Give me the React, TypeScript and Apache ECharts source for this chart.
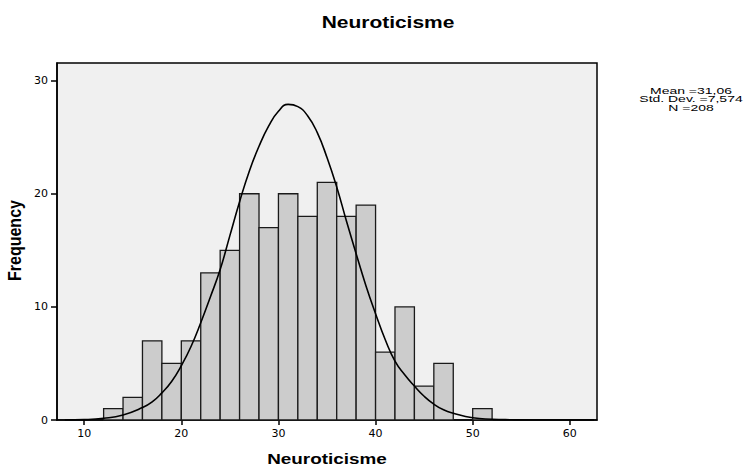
import React, { useEffect, useRef } from "react";
import * as echarts from "echarts";

// Histogram bins (width 2) and counts
const binStarts = [12, 14, 16, 18, 20, 22, 24, 26, 28, 30, 32, 34, 36, 38, 40, 42, 44, 46, 48, 50];
const binWidth = 2;
const counts = [1, 2, 7, 5, 7, 13, 15, 20, 17, 20, 18, 21, 18, 19, 6, 10, 3, 5, 0, 1];

// Normal curve
const curveX = [8, 10, 12, 14, 16, 17, 18, 19, 20, 21, 22, 23, 24, 25, 26, 27, 28, 29, 30, 31, 32, 33, 34, 35, 36, 37, 38, 39, 40, 41, 42, 43, 44, 45, 46, 47, 48, 50, 52, 54, 56, 62.5];
const curveY = [0, 0.03, 0.15, 0.45, 1.1, 1.6, 2.4, 3.4, 4.8, 6.5, 8.6, 10.9, 13.3, 16.3, 19.3, 22.0, 24.2, 26.0, 27.3, 27.9, 27.7, 26.9, 25.4, 23.2, 20.6, 17.6, 14.7, 11.9, 9.4, 7.1, 5.2, 4.0, 3.0, 2.1, 1.4, 0.9, 0.6, 0.2, 0.07, 0.02, 0, 0];

const xTicks = [10, 20, 30, 40, 50, 60];
const yTicks = [0, 10, 20, 30];

const titleText = "Neuroticisme";
const xName = "Neuroticisme";
const yName = "Frequency";
const statsLines = ["Mean =31,06", "Std. Dev. =7,574", "N =208"];

export default function App() {
  const ref = useRef<HTMLDivElement>(null);
  useEffect(() => {
    if (!ref.current) return;
    const chart = echarts.init(ref.current, null, { renderer: "svg" });
    const barData = binStarts
      .map((s, i) => [s, s + binWidth, counts[i]])
      .filter((d) => d[2] > 0);
    const curveData = curveX.map((x, i) => [x, curveY[i]]);
    const font = "Liberation Sans, Arial, sans-serif";
    const statsY = [91, 99.2, 107.4];
    chart.setOption({
      animation: false,
      backgroundColor: "#ffffff",
      grid: {
        left: 57,
        right: 151,
        top: 63,
        bottom: 46,
        show: true,
        backgroundColor: "#f0f0f0",
        borderColor: "#000",
        borderWidth: 1.5,
      },
      xAxis: {
        type: "value",
        min: 7.2,
        max: 62.8,
        splitLine: { show: false },
        axisLine: { show: true, onZero: false, lineStyle: { color: "#000", width: 1.5 } },
        axisTick: { show: true, length: 5, customValues: xTicks, lineStyle: { color: "#000", width: 1.5 } },
        axisLabel: {
          customValues: xTicks,
          color: "#000",
          fontFamily: "DejaVu Sans",
          fontSize: 11,
          margin: 8,
        },
      },
      yAxis: {
        type: "value",
        min: 0,
        max: 31.56,
        splitLine: { show: false },
        axisLine: { show: true, lineStyle: { color: "#000", width: 1.5 } },
        axisTick: { show: true, length: 6, customValues: yTicks, lineStyle: { color: "#000", width: 1.5 } },
        axisLabel: {
          customValues: yTicks,
          color: "#000",
          fontFamily: "DejaVu Sans",
          fontSize: 11,
          margin: 9,
        },
      },
      series: [
        {
          type: "custom",
          z: 2,
          data: barData,
          encode: { x: [0, 1], y: 2 },
          renderItem: (params: any, api: any) => {
            const x0 = api.value(0);
            const x1 = api.value(1);
            const v = api.value(2);
            const p0 = api.coord([x0, v]);
            const p1 = api.coord([x1, 0]);
            return {
              type: "rect",
              shape: { x: p0[0], y: p0[1], width: p1[0] - p0[0], height: p1[1] - p0[1] },
              style: { fill: "#cccccc", stroke: "#1a1a1a", lineWidth: 1.3 },
            };
          },
        },
        {
          type: "line",
          z: 5,
          data: curveData,
          smooth: 0.5,
          showSymbol: false,
          symbol: "none",
          clip: true,
          lineStyle: { color: "#000", width: 1.6 },
        },
      ],
      graphic: [
        {
          type: "text",
          x: 388,
          y: 22,
          scaleX: 1.31,
          style: {
            text: titleText,
            font: `bold 16px ${font}`,
            fill: "#000",
            align: "center",
            verticalAlign: "middle",
            textAlign: "center",
            textVerticalAlign: "middle",
          },
        },
        {
          type: "text",
          x: 327,
          y: 459,
          scaleX: 1.26,
          style: {
            text: xName,
            font: `bold 15px ${font}`,
            fill: "#000",
            align: "center",
            verticalAlign: "middle",
            textAlign: "center",
            textVerticalAlign: "middle",
          },
        },
        {
          type: "text",
          x: 15,
          y: 240.5,
          rotation: Math.PI / 2,
          scaleY: 1.1,
          style: {
            text: yName,
            font: `bold 16px ${font}`,
            fill: "#000",
            align: "center",
            verticalAlign: "middle",
            textAlign: "center",
            textVerticalAlign: "middle",
          },
        },
        ...statsLines.map((t, i) => ({
          type: "text",
          x: 691,
          y: statsY[i],
          scaleX: 1.47,
          style: {
            text: t,
            font: `9.5px ${font}`,
            fill: "#000",
            align: "center",
            verticalAlign: "middle",
            textAlign: "center",
            textVerticalAlign: "middle",
          },
        })),
      ],
    });
    return () => chart.dispose();
  }, []);
  return (
    <div
      ref={ref}
      style={{ position: "fixed", left: 0, top: 0, width: 748, height: 466, background: "#fff" }}
    />
  );
}
